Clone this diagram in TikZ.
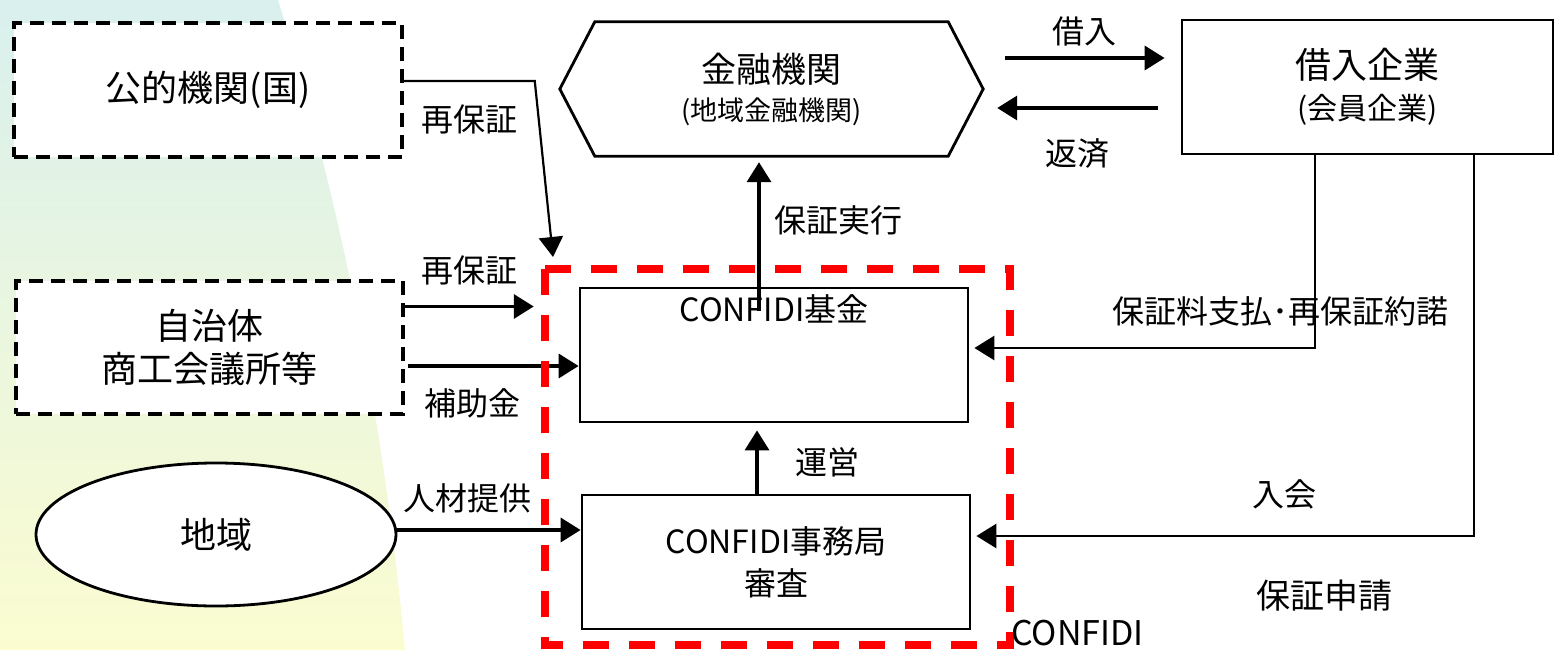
\documentclass[tikz,border=0pt]{standalone}
\usepackage{fontspec}
\setmainfont{Noto Sans CJK JP}
\usetikzlibrary{arrows.meta,shapes.geometric,calc}
\definecolor{bgtop}{RGB}{217,240,238}
\definecolor{bgmid}{RGB}{236,247,224}
\definecolor{bgbot}{RGB}{251,252,208}
\tikzset{
  orgnode/.style = {align=center, inner sep=0pt, text centered,
    font=\fontsize{36}{43}\selectfont},
  org_d/.style = {orgnode, rectangle, draw=black, fill=white,
    line width=3.5pt, dash pattern=on 14pt off 8pt},% dashed box
  org_n/.style = {orgnode, rectangle, draw=black, fill=white,
    line width=2.8pt},% plain box
  org_e/.style = {orgnode, ellipse, draw=black, fill=white,
    line width=2.8pt},% ellipse
  lbl/.style = {inner sep=0pt, font=\fontsize{32}{38}\selectfont},
  arr/.style = {-{Triangle[length=20pt,width=24pt]}, line width=3.5pt},
  zone_r/.style = {draw=red, line width=8pt, dash pattern=on 26pt off 20pt}
}
\begin{document}
\begin{tikzpicture}[x=1pt,y=-1pt]
\useasboundingbox (0,0) rectangle (1554,650);
% background
\shade[top color=bgtop, middle color=bgmid, bottom color=bgbot]
  (0,0) -- (278,0) .. controls (330,170) and (380,380) .. (405,650)
  -- (0,650) -- cycle;

% left side
\node[org_d, minimum width=388pt, minimum height=134pt] (pub) at (208,90) {公的機関(国)};
\node[org_d, minimum width=387pt, minimum height=133pt] (local) at (209.5,347.5) {自治体\\商工会議所等};
\node[org_e, minimum width=360pt, minimum height=143pt] (region) at (216,534.5) {地域};

% bank and firm
\node[orgnode, minimum width=423pt, minimum height=134pt, font=\fontsize{35}{42}\selectfont]
  (bank) at (771.5,89) {金融機関\\[-4pt]{\fontsize{27}{32}\selectfont (地域金融機関)}};
\draw[line width=2.8pt] ([xshift=35pt]bank.north west) -- ([xshift=-35pt]bank.north east)
  -- (bank.east) -- ([xshift=-35pt]bank.south east) -- ([xshift=35pt]bank.south west)
  -- (bank.west) -- cycle;
\node[org_n, minimum width=371pt, minimum height=134pt] (firm) at (1367.5,87)
  {借入企業\\[-2pt]{\fontsize{30}{36}\selectfont (会員企業)}};

% CONFIDI
\node[org_n, minimum width=388pt, minimum height=134pt,
  label={[lbl, anchor=north, yshift=-8pt]north:CONFIDI基金}] (fund) at (774,355) {};
\node[org_n, minimum width=388pt, minimum height=134pt,
  font=\fontsize{32}{42}\selectfont] (office) at (776,562) {CONFIDI事務局\\審査};
\coordinate (zoneNW) at (545,269);
\coordinate (zoneSE) at (1010,645);
\coordinate (subS) at ($(local.east)+(3,18.5)$);

% arrows
\draw[arr, line width=2.2pt] ([yshift=9pt]pub.east) -- ++(131,0)
  node[lbl, midway, below=23pt] {再保証}
  -- ($(zoneNW)+(8,-12)$);
\draw[arr] ([yshift=41pt]local.east) -- ++(129,0)
  node[lbl, midway, above=20pt] {再保証};
\draw[arr] (subS) -- (subS -| fund.west)
  node[lbl, pos=0.38, below=21pt] {補助金};
\draw[arr] ([yshift=4.5pt]region.east) -- ([yshift=4.5pt]region.east -| office.west)
  node[lbl, pos=0.38, above=15pt] {人材提供};
\draw[arr] ([xshift=-19pt]office.north) -- ([xshift=-17pt,yshift=-7pt]fund.south)
  node[lbl, midway, right=37pt] {運営};
\draw[arr] ([xshift=22pt,yshift=31pt]bank.east) -- ([xshift=-16pt,yshift=29pt]firm.west)
  node[lbl, midway, above=10pt] {借入};
\draw[arr] ([xshift=-23pt,yshift=-21pt]firm.west) -- ([xshift=14pt,yshift=-19pt]bank.east)
  node[lbl, midway, below=29pt] {返済};
\draw[arr, line width=2.8pt] ([xshift=-52.5pt]firm.south) |- ([xshift=5pt,yshift=7pt]fund.east)
  node[lbl, pos=0.55, above=20pt] {保証料支払･再保証約諾};
\draw[arr, line width=2.8pt] ([xshift=106.5pt]firm.south) |- ([xshift=5pt,yshift=26pt]office.east)
  node[lbl, pos=0.69, above=25pt] {入会}
  node[lbl, pos=0.65, below=43pt, font=\fontsize{34}{40}\selectfont] {保証申請};

% red frame
\draw[zone_r] (zoneNW) rectangle (zoneSE);
\node[lbl, anchor=base west, font=\fontsize{34}{40}\selectfont] (zoneLbl) at (1011,645) {CONFIDI};

\draw[arr] ([xshift=-15pt,yshift=-24pt]fund.north) -- ([xshift=-12.5pt,yshift=-6pt]bank.south)
  node[lbl, pos=0.61, right=14pt] {保証実行};
\end{tikzpicture}
\end{document}
